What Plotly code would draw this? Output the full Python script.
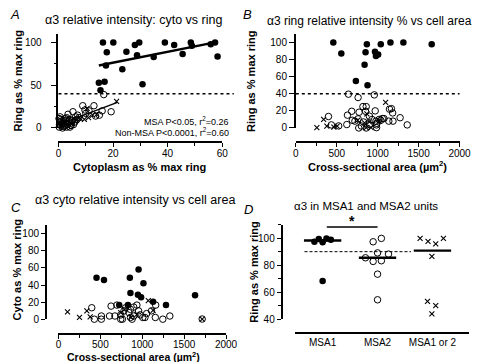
import plotly.graph_objects as go

W, H = 480, 362
FONT = "Liberation Sans, Arial, Helvetica, sans-serif"

# ---------------- DATA ----------------
# Panel A: cytoplasm (% max ring) vs ring (% max ring)
a_msa_x = [16.3, 20.1, 17.7, 28.0, 29.6, 24.9, 28.8, 23.4, 17.4, 14.8, 16.9, 15.4, 30.8, 39.0, 42.4, 34.9, 45.5, 48.5, 48.9, 55.8, 57.4, 58.3]
a_msa_y = [100, 100, 88.5, 97, 100, 89, 85, 68.6, 73, 53, 54, 44, 51, 100, 97, 83, 86.6, 100, 96, 98, 100, 83.5]
a_non_open_x = [0.3, 0.8, 1.2, 0.5, 1.8, 2.2, 0.2, 2.8, 3.3, 3.8, 4.2, 4.8, 5.5, 0.6, 1.5, 2.5, 3.0, 4.0, 5.0, 6.0, 6.8, 7.5, 1.0, 2.0, 0.4, 3.5, 5.3, 8.9, 9.7, 10.0, 11.2, 13.0, 13.6, 15.0, 16.0, 19.3, 16.6, 0.9, 6.3, 7.0, 2.6, 4.6, 1.3, 3.0]
a_non_open_y = [1, 3, 5, 7, 9, 2, 11, 6, 4, 8, 1, 6, 4, 13, 0, 11, 1, 10, 9, 7, 10, 12, 8, 5, 4, 16, 19, 26, 21, 17, 20, 26, 14, 15, 20, 19, 39, 10, 13, 15, 8, 3, 2, 12]
a_non_x_x = [1.0, 2.0, 3.5, 5.0, 6.5, 8.0, 9.5, 11.0, 12.5, 14.0, 10.5, 21.3]
a_non_x_y = [3, 6, 2, 5, 9, 11, 10, 12, 15, 16, 23, 31]
a_fit_msa_x = [14.8, 57.4]
a_fit_msa_y = [73, 100]
a_fit_non_x = [0.0, 21.6]
a_fit_non_y = [4, 30]
a_stats = ["MSA P<0.05, r<sup>2</sup>=0.26", "Non-MSA P<0.0001, r<sup>2</sup>=0.60"]

# Panel B: cross-sectional area vs ring
b_msa_x = [458, 556, 868, 852, 1038, 1156, 1314, 1660, 967, 979, 1006, 840, 734, 876]
b_msa_y = [100, 87, 98, 88.5, 98, 100, 100, 98, 89, 84, 86, 74, 55, 50]
b_open_x = [643, 761, 959, 860, 820, 773, 970, 631, 690, 623, 399, 434, 524, 769, 860, 986, 1018, 1077, 1168, 1183, 1187, 1274, 1361, 1144, 899, 828, 931, 979, 1038, 722, 801, 899, 990, 683, 1057, 986, 1136, 852, 761]
b_open_y = [39.5, 35.6, 38.7, 25, 25, 18.4, 20, 15, 9, 4, 13.4, 3.6, 2.4, 0, 0, 3.6, 10, 11, 22.6, 17.6, 8, 12, 3.6, 22, 13.8, 7, 10, 8, 9, 8, 2.3, 4, 5.4, 19.5, 11, 0.4, 8, 19.5, 10.7]
b_x_x = [257, 340, 379, 465, 505, 754, 868, 899, 919, 860, 1097, 1018, 840]
b_x_y = [0.4, 10, 2.3, 1.1, 2.3, 9, 16.5, 7, 0.4, 0.4, 30, 8, 6]

# Panel C: cross-sectional area vs cyto
c_msa_x = [454, 543, 852, 956, 1014, 859, 948, 986, 725, 829, 1129, 1283, 1630]
c_msa_y = [48.5, 45.8, 48.5, 58, 42, 30.7, 28.8, 25.8, 16.7, 16.7, 20.5, 16.7, 28]
c_open_x = [397, 428, 512, 512, 609, 628, 674, 743, 763, 801, 840, 859, 898, 936, 956, 975, 1006, 1052, 1110, 1160, 1156, 1245, 1329, 898, 782, 859, 743, 879, 1032, 697, 1715]
c_open_y = [13.6, 0.3, 4, 0.3, 4, 15.5, 4, 5.3, 0.3, 13.6, 8, 2.3, 4, 16.7, 10, 5.3, 2.3, 6.8, 10, 16.7, 2.3, 0.3, 4, 14.4, 10, 11.7, 0.3, 0.3, 2.3, 16.7, 0.5]
c_x_x = [108, 251, 339, 378, 790, 867, 1072, 1129, 936, 743, 1715]
c_x_y = [8.7, 2.3, 10, 3, 11.7, 2.3, 22, 10.6, 6, 8, 0.5]

# Panel D: ring intensity by unit type
d_categories = ["MSA1", "MSA2", "MSA1 or 2"]
d_msa1_x = [-0.15, -0.07, 0.0, 0.07, 0.15, 0.0]
d_msa1_y = [97.3, 99.3, 96.9, 99.8, 98.8, 68.3]
d_msa2_x = [0.92, 1.07, 1.0, 1.2, 0.78, 0.92, 1.07, 1.0, 1.0]
d_msa2_y = [97.3, 99.8, 89.1, 88.2, 85.5, 82.8, 83.3, 73.4, 54.5]
d_either_x = [1.775, 1.92, 2.06, 2.2, 1.99, 1.91, 2.06, 1.99]
d_either_y = [99.8, 97.6, 95.7, 99.8, 86.5, 53.3, 50.2, 44.1]
d_medians = [98.2, 85.5, 90.8]
d_threshold = 90
d_sig_y = 108.2

threshold_ring = 40

# ---------------- GEOMETRY (pixels) ----------------
def pxx(x):
    return x / W

def pxy(y):
    return 1 - y / H

fig = go.Figure()


def add_pts(x, y, kind, xa, ya):
    if kind == "filled":
        m = dict(symbol="circle", size=6.5, color="black", line=dict(width=0))
    elif kind == "open":
        m = dict(symbol="circle-open", size=6.5, color="black", line=dict(width=1))
    else:
        m = dict(symbol="x-thin-open", size=5, color="black", line=dict(width=1.1))
    fig.add_trace(go.Scatter(x=x, y=y, mode="markers", marker=m, xaxis=xa, yaxis=ya,
                             cliponaxis=False, showlegend=False, hoverinfo="skip"))


def add_line(x, y, xa, ya, width=2, dash="solid"):
    fig.add_trace(go.Scatter(x=x, y=y, mode="lines", line=dict(color="black", width=width, dash=dash),
                             xaxis=xa, yaxis=ya, showlegend=False, hoverinfo="skip", cliponaxis=False))

# Panel A
add_pts(a_non_open_x, a_non_open_y, "open", "x", "y")
add_pts(a_non_x_x, a_non_x_y, "x", "x", "y")
add_pts(a_msa_x, a_msa_y, "filled", "x", "y")
add_line(a_fit_msa_x, a_fit_msa_y, "x", "y", width=2.4)
add_line(a_fit_non_x, a_fit_non_y, "x", "y", width=1.4)

# Panel B
add_pts(b_open_x, b_open_y, "open", "x2", "y2")
add_pts(b_x_x, b_x_y, "x", "x2", "y2")
add_pts(b_msa_x, b_msa_y, "filled", "x2", "y2")

# Panel C
add_pts(c_open_x, c_open_y, "open", "x3", "y3")
add_pts(c_x_x, c_x_y, "x", "x3", "y3")
add_pts(c_msa_x, c_msa_y, "filled", "x3", "y3")

# Panel D
add_line([-0.33, 1.61], [d_threshold, d_threshold], "x4", "y4", width=1, dash="3px,2px")
add_pts(d_msa1_x, d_msa1_y, "filled", "x4", "y4")
add_pts(d_msa2_x, d_msa2_y, "open", "x4", "y4")
add_pts(d_either_x, d_either_y, "x", "x4", "y4")
for i, med in enumerate(d_medians):
    add_line([i - 0.34, i + 0.34], [med, med], "x4", "y4", width=2.4)
add_line([0.076, 1.0], [d_sig_y, d_sig_y], "x4", "y4", width=1.5)

# ---------------- AXES ----------------
common = dict(showline=True, linecolor="black", linewidth=1.7, ticks="outside", ticklen=5,
              tickwidth=1.4, tickcolor="black", showgrid=False, zeroline=False,
              tickfont=dict(size=10, color="black", family=FONT), fixedrange=True)

def minor(dt):
    return dict(ticks="outside", ticklen=3, tickwidth=1.2, tickcolor="black", dtick=dt, showgrid=False)

xcommon = dict(common, ticklen=4, ticklabelstandoff=-2)

fig.update_layout(
    xaxis=dict(xcommon, domain=[pxx(49), pxx(218)], range=[0, 60], anchor="free", position=pxy(136),
               tick0=0, dtick=20, minor=minor(10)),
    yaxis=dict(common, domain=[pxy(122), pxy(26.3)], range=[0, 110], anchor="x",
               tick0=0, dtick=50, minor=minor(25), ticklabelstandoff=7, ticklen=6),
    xaxis2=dict(xcommon, domain=[pxx(294), pxx(463)], range=[0, 2000], anchor="free", position=pxy(136),
                tick0=0, dtick=500, minor=minor(250)),
    yaxis2=dict(common, domain=[pxy(122), pxy(26.3)], range=[0, 110], anchor="x2", tick0=0, dtick=20),
    xaxis3=dict(xcommon, domain=[pxx(49), pxx(222)], range=[0, 2000], anchor="free", position=pxy(331.5),
                tick0=0, dtick=500, minor=minor(250), ticklabelstandoff=-3),
    yaxis3=dict(common, domain=[pxy(316.7), pxy(220.5)], range=[0, 110], anchor="free", position=pxx(36),
                tick0=0, dtick=20, ticklen=4),
    xaxis4=dict(xcommon, domain=[pxx(293), pxx(473)], range=[-0.506, 2.67], anchor="free", position=pxy(330),
                tickmode="array", tickvals=[0, 1, 2], ticktext=d_categories, ticks="", ticklabelstandoff=1),
    yaxis4=dict(common, domain=[pxy(316.7), pxy(220.2)], range=[40, 110], anchor="free", position=pxx(279.3),
                tick0=40, dtick=20, minor=minor(10), ticklen=4),
)

# ---------------- SHAPES (threshold dotted lines) ----------------
def a_y(v):  # panel A/B pixel y from data
    return 122 - v * (122 - 26.3) / 110

shapes = [
    dict(type="line", xref="paper", yref="paper", x0=pxx(49), x1=pxx(230),
         y0=pxy(a_y(threshold_ring)), y1=pxy(a_y(threshold_ring)),
         line=dict(color="black", width=1.5, dash="dot")),
    dict(type="line", xref="paper", yref="paper", x0=pxx(294), x1=pxx(463),
         y0=pxy(a_y(threshold_ring)), y1=pxy(a_y(threshold_ring)),
         line=dict(color="black", width=1.5, dash="dot")),
]
fig.update_layout(shapes=shapes)

# ---------------- TEXT ----------------
ann = []
def text(x, y, t, size=11, bold=False, italic=False, angle=0, xanchor="center", yanchor="middle"):
    s = t
    if bold:
        s = "<b>" + s + "</b>"
    if italic:
        s = "<i>" + s + "</i>"
    ann.append(dict(x=pxx(x), y=pxy(y), xref="paper", yref="paper", text=s, showarrow=False,
                    textangle=angle, xanchor=xanchor, yanchor=yanchor,
                    font=dict(size=size, color="black", family=FONT)))

# panel letters
text(4, 7, "A", size=13, italic=True)
text(244, 7, "B", size=13, italic=True)
text(5.5, 202.5, "C", size=13, italic=True)
text(245.5, 204.5, "D", size=13, italic=True)

# titles
text(126, 12, "α3 relative intensity: cyto vs ring", size=12.5)
text(370, 13, "α3 ring relative intensity % vs cell area", size=12)
text(128, 195, "α3 cyto relative intensity vs cell area", size=12.5)
text(366.7, 201.7, "α3 in MSA1 and MSA2 units", size=11.5)

# axis titles
text(133, 162, "Cytoplasm as % max ring", size=11, bold=True)
text(7, 74, "Ring as % max ring", size=11, bold=True, angle=-90)
text(378.5, 161, "Cross-sectional area (µm<sup>2</sup>)", size=11, bold=True)
text(248, 75, "Ring as % max ring", size=11, bold=True, angle=-90)
text(126.5, 354.5, "Cross-sectional area (µm<sup>2</sup>)", size=10.5, bold=True)
text(6, 266, "Cyto as % max ring", size=11, bold=True, angle=-90)
text(250, 269, "Ring as % max ring", size=11, bold=True, angle=-90)

# stats
text(227, 115, a_stats[0], size=9, xanchor="right")
text(227, 126, a_stats[1], size=9, xanchor="right")

fig.update_layout(annotations=ann)
fig.add_annotation(x=0.54, y=d_sig_y, xref="x4", yref="y4", text="<b>*</b>", showarrow=False,
                   yanchor="bottom", yshift=-4, font=dict(size=14, color="black", family=FONT))

fig.update_layout(width=W, height=H, margin=dict(l=0, r=0, t=0, b=0), autosize=False,
                  paper_bgcolor="white", plot_bgcolor="white", showlegend=False,
                  font=dict(family=FONT, color="black"))

fig.write_html("out.html")
